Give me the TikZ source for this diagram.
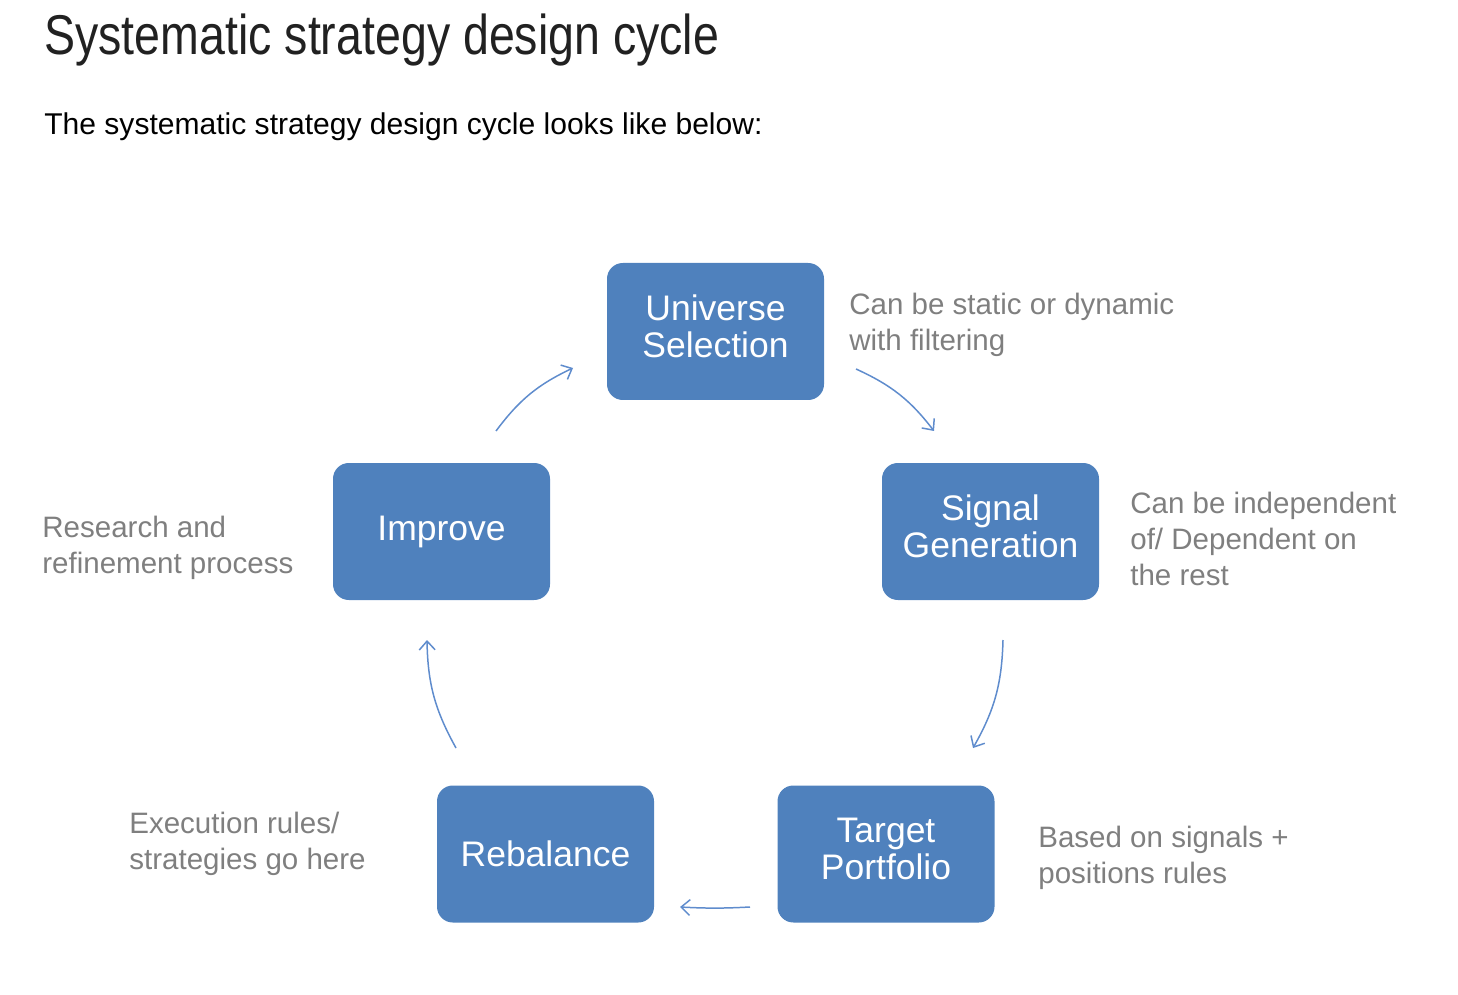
\documentclass[tikz,border=0pt]{standalone}
\usepackage{fontspec}
\setmainfont{Liberation Sans}
\newfontfamily\headfont[FakeStretch=0.83]{Liberation Sans}
\usetikzlibrary{positioning,calc}
\usetikzlibrary{arrows.meta}
\definecolor{BoxBlue}{RGB}{79,129,189}
\definecolor{ArrBlue}{RGB}{95,140,205}
\definecolor{NoteGray}{RGB}{127,127,127}
\definecolor{HeadInk}{RGB}{33,33,33}
\newcommand{\twolines}[2]{\raisebox{2.2pt}{\begin{tabular}{@{}c@{}}#1\\#2\end{tabular}}}
\tikzset{
  stage/.style={rectangle,rounded corners=9pt,fill=BoxBlue,text=white,minimum width=4.34cm,minimum height=2.74cm,
    align=center,inner sep=0pt,font=\fontsize{20.2}{21}\selectfont},
  note/.style={anchor=west,align=left,inner sep=0pt,text=NoteGray,font=\fontsize{16.8}{20.5}\selectfont},
  flow/.style={draw=ArrBlue,line width=0.85pt,-{Straight Barb[length=5pt,width=9pt]}},
}

\begin{document}
\begin{tikzpicture}
\useasboundingbox (0,0) rectangle (29.16,-19.9);
\node[anchor=base west,inner sep=0pt,text=HeadInk,font=\headfont\fontsize{31.9}{34}\selectfont](title) at (0.88,-1.1){Systematic strategy design cycle};
\node[anchor=base west,inner sep=0pt,font=\fontsize{17.1}{20}\selectfont](intro) at (0.88,-2.7){The systematic strategy design cycle looks like below:};
% the five stages
\node[stage](univ) at (14.31,-6.63){\twolines{Universe}{Selection}};
\node[stage](sig) at (19.81,-10.63){\twolines{Signal}{Generation}};
\node[stage](tgt) at (17.72,-17.08){\twolines{Target}{Portfolio}};
\node[stage](reb) at (10.91,-17.08){Rebalance};
\node[stage](impr) at (8.83,-10.63){Improve};
% side notes
\node[note](nUniv) at (16.98,-6.5){Can be static or dynamic\\with filtering};
\node[note](nSig) at (22.6,-10.78){Can be independent\\of/ Dependent on\\the rest};
\node[note](nTgt) at (20.76,-17.16){Based on signals +\\positions rules};
\node[note](nReb) at (2.58,-16.88){Execution rules/\\strategies go here};
\node[note](nImpr) at (0.84,-10.96){Research and\\refinement process};
% arrow ends
\coordinate(a1) at (9.92,-8.62);\coordinate(b1) at (11.46,-7.36);
\coordinate(a2) at (17.12,-7.38);\coordinate(b2) at (18.68,-8.62);
\coordinate(a3) at (20.06,-12.80);\coordinate(b3) at (19.46,-14.96);
\coordinate(a4) at (15.0,-18.14);\coordinate(b4) at (13.6,-18.14);
\coordinate(a5) at (9.12,-14.96);\coordinate(b5) at (8.54,-12.80);
\draw[flow] (a1) to[bend left=14] (b1);\draw[flow] (a2) to[bend left=14] (b2);
\draw[flow] (a3) to[bend left=14] (b3);\draw[flow] (a4) to[bend left=3] (b4);
\draw[flow] (a5) to[bend left=14] (b5);
\end{tikzpicture}
\end{document}
